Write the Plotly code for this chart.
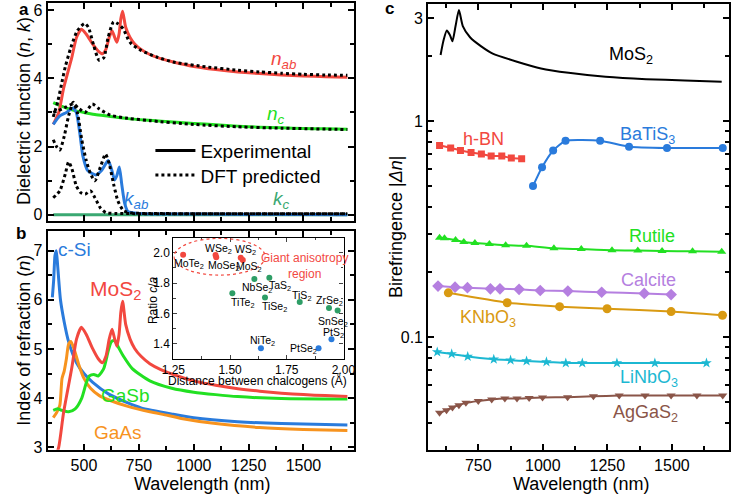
import plotly.graph_objects as go

# ---------------- Panel a data ----------------
wl_nab = [360, 385, 407, 444, 466, 488, 510, 539, 565, 584, 600, 615, 628, 640, 650, 660, 668, 676, 690, 710, 731, 760, 800, 850, 907, 1000, 1100, 1201, 1300, 1400, 1500, 1600, 1700]
n_ab = [2.65, 3.0, 3.7, 4.6, 5.2, 5.44, 5.3, 5.01, 4.8, 4.72, 4.85, 5.2, 5.4, 5.2, 5.06, 5.3, 5.75, 5.97, 5.5, 5.2, 5.01, 4.85, 4.7, 4.58, 4.48, 4.35, 4.26, 4.19, 4.14, 4.1, 4.07, 4.05, 4.03]
wl_nab_dft = [360, 380, 400, 415, 440, 470, 503, 520, 545, 569, 590, 610, 635, 655, 679, 701, 716, 760, 834, 907, 1054, 1200, 1300, 1400, 1500, 1600, 1700]
n_ab_dft = [2.87, 3.3, 3.9, 4.34, 4.9, 5.4, 5.61, 5.5, 4.95, 4.53, 4.6, 5.2, 5.66, 5.6, 5.45, 5.15, 5.01, 4.82, 4.62, 4.48, 4.34, 4.24, 4.19, 4.15, 4.12, 4.1, 4.09]
wl_nc = [360, 400, 450, 500, 550, 613, 700, 800, 907, 1000, 1100, 1201, 1300, 1400, 1500, 1600, 1700]
n_c = [3.29, 3.18, 3.07, 3.0, 2.94, 2.89, 2.82, 2.77, 2.72, 2.68, 2.64, 2.6, 2.57, 2.55, 2.53, 2.52, 2.51]
wl_nc_dft = [360, 400, 451, 480, 505, 538, 570, 620, 700, 800, 1000, 1200, 1400, 1700]
n_c_dft = [3.0, 3.1, 3.25, 3.1, 3.0, 3.25, 3.1, 2.92, 2.83, 2.76, 2.65, 2.58, 2.54, 2.5]
wl_kab = [360, 390, 420, 450, 465, 481, 495, 517, 554, 580, 610, 625, 640, 650, 661, 672, 685, 700, 750, 1000, 1700]
k_ab = [2.65, 2.9, 3.0, 3.13, 3.0, 2.4, 1.73, 1.3, 1.17, 1.3, 1.59, 1.35, 1.02, 1.15, 1.4, 0.9, 0.35, 0.1, 0.04, 0.02, 0.0]
wl_kab_dft = [360, 375, 390, 410, 430, 451, 470, 490, 510, 530, 550, 575, 598, 615, 635, 655, 680, 720, 800, 1000, 1700]
k_ab_dft = [2.2, 2.0, 1.9, 2.3, 2.9, 3.3, 3.0, 2.2, 1.6, 1.2, 1.0, 1.4, 1.78, 1.5, 0.9, 0.4, 0.12, 0.05, 0.04, 0.03, 0.03]
wl_kc = [360, 1700]
k_c = [0.0, 0.0]
wl_kc_dft = [360, 390, 415, 430, 445, 465, 485, 505, 530, 550, 575, 600, 650, 1700]
k_c_dft = [0.5, 0.7, 1.2, 1.55, 1.35, 0.85, 0.65, 0.6, 0.7, 0.5, 0.2, 0.06, 0.04, 0.03]

# ---------------- Panel b data ----------------
wl_si = [356, 362, 368, 374, 380, 393, 410, 430, 466, 500, 540, 613, 700, 760, 907, 1000, 1200, 1400, 1700]
n_si = [6.05, 6.4, 6.9, 7.0, 6.7, 6.0, 5.55, 5.15, 4.72, 4.5, 4.32, 4.08, 3.9, 3.8, 3.67, 3.6, 3.52, 3.48, 3.45]
wl_gasb = [360, 380, 400, 430, 460, 490, 510, 525, 545, 565, 590, 610, 625, 640, 655, 680, 720, 800, 900, 1000, 1100, 1200, 1400, 1700]
n_gasb = [3.75, 3.78, 3.75, 3.72, 3.78, 4.0, 4.3, 4.45, 4.48, 4.45, 4.6, 4.95, 5.15, 5.17, 5.05, 4.85, 4.6, 4.35, 4.2, 4.12, 4.07, 4.03, 3.99, 3.98]
wl_gaas = [360, 375, 390, 400, 410, 420, 430, 440, 455, 475, 500, 530, 570, 620, 700, 800, 880, 950, 1100, 1300, 1500, 1700]
n_gaas = [3.6, 3.7, 3.85, 4.4, 4.55, 4.8, 5.1, 5.15, 5.0, 4.7, 4.4, 4.2, 4.05, 3.95, 3.83, 3.72, 3.65, 3.58, 3.48, 3.4, 3.36, 3.34]

# ---------------- Inset data ----------------
tmd_names = ["MoTe<sub>2</sub>", "WSe<sub>2</sub>", "MoSe<sub>2</sub>", "WS<sub>2</sub>", "MoS<sub>2</sub>",
             "NbSe<sub>2</sub>", "TaS<sub>2</sub>", "TiTe<sub>2</sub>", "TiSe<sub>2</sub>", "TiS<sub>2</sub>",
             "ZrSe<sub>2</sub>", "SnSe<sub>2</sub>", "NiTe<sub>2</sub>", "PtSe<sub>2</sub>", "PtS<sub>2</sub>"]
tmd_dist = [1.293, 1.436, 1.439, 1.547, 1.556, 1.607, 1.673, 1.510, 1.654, 1.807, 1.936, 1.974, 1.636, 1.890, 1.947]
tmd_ratio = [1.987, 1.985, 1.970, 1.968, 1.953, 1.827, 1.835, 1.734, 1.705, 1.675, 1.636, 1.620, 1.370, 1.370, 1.430]
tmd_group = ["r", "r", "r", "r", "r", "g", "g", "g", "g", "g", "g", "g", "b", "b", "b"]
tmd_label_x = [1.317, 1.450, 1.472, 1.568, 1.585, 1.620, 1.722, 1.556, 1.698, 1.814, 1.938, 1.952, 1.641, 1.825, 1.956]
tmd_label_y = [1.929, 2.026, 1.913, 2.021, 1.906, 1.766, 1.783, 1.669, 1.640, 1.716, 1.679, 1.545, 1.416, 1.366, 1.469]

# ---------------- Panel c data ----------------
wl_mos2_c = [604, 615, 628, 640, 650, 662, 675, 690, 718, 760, 806, 900, 993, 1100, 1243, 1400, 1550, 1693]
dn_mos2 = [2.02, 2.35, 2.62, 2.5, 2.34, 2.75, 3.26, 2.75, 2.44, 2.22, 2.05, 1.88, 1.75, 1.67, 1.60, 1.56, 1.54, 1.52]
wl_hbn = [600, 643, 681, 722, 762, 800, 841, 878, 918]
dn_hbn = [0.769, 0.750, 0.730, 0.714, 0.703, 0.688, 0.688, 0.673, 0.668]
wl_batis3 = [962, 997, 1040, 1088, 1222, 1334, 1481, 1697]
dn_batis3 = [0.50, 0.61, 0.73, 0.81, 0.81, 0.76, 0.75, 0.75]
wl_rutile = [600, 619, 662, 694, 737, 793, 856, 937, 1043, 1149, 1268, 1368, 1462, 1580, 1693]
dn_rutile = [0.288, 0.286, 0.281, 0.275, 0.272, 0.269, 0.266, 0.264, 0.257, 0.255, 0.252, 0.251, 0.250, 0.249, 0.248]
wl_calcite = [594, 660, 708, 797, 834, 908, 990, 1097, 1228, 1393, 1497]
dn_calcite = [0.172, 0.170, 0.169, 0.167, 0.167, 0.166, 0.164, 0.163, 0.161, 0.159, 0.157]
wl_knbo3 = [634, 862, 1065, 1249, 1497, 1696]
dn_knbo3 = [0.160, 0.144, 0.138, 0.135, 0.131, 0.126]
wl_linbo3 = [591, 647, 709, 810, 875, 937, 1014, 1089, 1153, 1287, 1434, 1634]
dn_linbo3 = [0.0851, 0.0834, 0.0811, 0.0788, 0.0780, 0.0773, 0.0766, 0.0757, 0.0757, 0.0757, 0.0757, 0.0757]
wl_aggas2 = [600, 627, 650, 675, 702, 750, 802, 853, 900, 947, 999, 1096, 1196, 1296, 1396, 1497, 1597, 1697]
dn_aggas2 = [0.0445, 0.0458, 0.0471, 0.0483, 0.0495, 0.0505, 0.0513, 0.0518, 0.0518, 0.0521, 0.0524, 0.0526, 0.0531, 0.0535, 0.0535, 0.0535, 0.0535, 0.0535]

# ---------------- Styling ----------------
FONT = "Arial, Liberation Sans, sans-serif"
RED = "#f2483f"
GREEN = "#22e022"
DGREEN = "#3aa872"
BLUE = "#2a7bdc"
ORANGE = "#f7931e"
PURPLE = "#b57fe0"
GOLD = "#d99a12"
CYAN = "#1cb8d2"
BROWN = "#8a5548"
INS_COL = {"r": "#f2483f", "g": "#2e9e66", "b": "#2a7bdc"}

fig = go.Figure()

def line(x, y, color, xa, ya, width=3, dash=None, shape="spline"):
    fig.add_trace(go.Scatter(x=x, y=y, mode="lines", xaxis=xa, yaxis=ya,
                             line=dict(color=color, width=width, dash=dash, shape=shape, smoothing=0.6),
                             showlegend=False, hoverinfo="skip"))

# Panel a
line(wl_kc, k_c, DGREEN, "x", "y")
line(wl_nc, n_c, GREEN, "x", "y")
line(wl_nab, n_ab, RED, "x", "y")
line(wl_kab, k_ab, BLUE, "x", "y")
for wx, vy in [(wl_nab_dft, n_ab_dft), (wl_nc_dft, n_c_dft), (wl_kab_dft, k_ab_dft), (wl_kc_dft, k_c_dft)]:
    line(wx, vy, "black", "x", "y", width=3, dash="dot")
fig.add_trace(go.Scatter(x=[None], y=[None], mode="lines", xaxis="x", yaxis="y",
                         line=dict(color="black", width=3), name="Experimental",
                         showlegend=True, legend="legend"))
fig.add_trace(go.Scatter(x=[None], y=[None], mode="lines", xaxis="x", yaxis="y",
                         line=dict(color="black", width=3, dash="dot"), name="DFT predicted",
                         showlegend=True, legend="legend2"))

# Panel b
line(wl_si, n_si, BLUE, "x2", "y2")
line(wl_gaas, n_gaas, ORANGE, "x2", "y2")
line(wl_gasb, n_gasb, GREEN, "x2", "y2")
line(wl_nab, n_ab, RED, "x2", "y2")

# Inset
for grp in ["r", "g", "b"]:
    xs = [d for d, g in zip(tmd_dist, tmd_group) if g == grp]
    ys = [r for r, g in zip(tmd_ratio, tmd_group) if g == grp]
    fig.add_trace(go.Scatter(x=xs, y=ys, mode="markers", xaxis="x4", yaxis="y4",
                             marker=dict(color=INS_COL[grp], size=6), showlegend=False, hoverinfo="skip"))

# Panel c
line(wl_mos2_c, dn_mos2, "black", "x3", "y3", width=2)
def mline(x, y, color, symbol, size=8):
    fig.add_trace(go.Scatter(x=x, y=y, mode="lines+markers", xaxis="x3", yaxis="y3",
                             line=dict(color=color, width=2, shape="spline", smoothing=0.5),
                             marker=dict(color=color, symbol=symbol, size=size),
                             showlegend=False, hoverinfo="skip"))
mline(wl_hbn, dn_hbn, RED, "square", 7)
mline(wl_batis3, dn_batis3, BLUE, "circle", 8)
mline(wl_rutile, dn_rutile, GREEN, "triangle-up", 8)
mline(wl_calcite, dn_calcite, PURPLE, "diamond", 9)
mline(wl_knbo3, dn_knbo3, GOLD, "circle", 9)
mline(wl_linbo3, dn_linbo3, CYAN, "star", 8)
mline(wl_aggas2, dn_aggas2, BROWN, "triangle-down", 8)

W, H = 748, 501
def px(x): return x / W
def py(y): return 1 - y / H

axis_common = dict(showline=True, linewidth=2, linecolor="black", mirror="ticks",
                   ticks="inside", ticklen=6, tickwidth=1.5, tickcolor="black",
                   showgrid=False, zeroline=False,
                   tickfont=dict(family=FONT, size=16, color="black"))
inset_common = dict(showline=True, linewidth=1.2, linecolor="black", mirror="ticks", ticks="inside",
                    ticklen=4, tickwidth=1, showgrid=False, zeroline=False,
                    tickfont=dict(family=FONT, size=12, color="black"))

INS_X = [166.7, 342.5]
INS_XR = [1.25, 2.0]
xa_dom = [px(36.7), px(353.3)]
leg_common = dict(xanchor="left", yanchor="middle", bgcolor="rgba(0,0,0,0)",
                  font=dict(family=FONT, size=19, color="black"), itemwidth=40, borderwidth=0)
fig.update_layout(
    xaxis=dict(domain=xa_dom, range=[334, 1730], anchor="y", tickvals=[500, 750, 1000, 1250, 1500],
               showticklabels=False, minor=dict(ticks="inside", ticklen=4, tickvals=[625, 875, 1125, 1375, 1625]), **axis_common),
    yaxis=dict(domain=[py(222.7), py(1.7)], range=[-0.17, 6.22], anchor="x", tickvals=[0, 2, 4, 6],
               minor=dict(ticks="inside", ticklen=4, tickvals=[1, 3, 5]), **axis_common),
    xaxis2=dict(domain=xa_dom, range=[334, 1730], anchor="y2", tickvals=[500, 750, 1000, 1250, 1500],
                minor=dict(ticks="inside", ticklen=4, tickvals=[625, 875, 1125, 1375, 1625]), **axis_common),
    yaxis2=dict(domain=[py(455), py(233.3)], range=[2.95, 7.4], anchor="x2", tickvals=[3, 4, 5, 6, 7],
                minor=dict(ticks="inside", ticklen=4, tickvals=[3.5, 4.5, 5.5, 6.5]), **axis_common),
    xaxis3=dict(domain=[px(430), px(740.7)], range=[556, 1721], anchor="y3", tickvals=[750, 1000, 1250, 1500],
                minor=dict(ticks="inside", ticklen=4, tickvals=[625, 875, 1125, 1375, 1625]), **axis_common),
    yaxis3=dict(domain=[py(455), py(2.7)], type="log", range=[-1.522, 0.543], anchor="x3",
                tickvals=[0.1, 1, 3], ticktext=["0.1", "1", "3"],
                minor=dict(ticks="inside", ticklen=4, tickvals=[0.04, 0.05, 0.06, 0.07, 0.08, 0.09, 0.2, 0.3, 0.4, 0.5, 0.6, 0.7, 0.8, 0.9, 2]),
                **axis_common),
    xaxis4=dict(domain=[px(INS_X[0]), px(INS_X[1])], range=INS_XR, anchor="y4",
                tickvals=[1.25, 1.5, 1.75, 2.0], ticktext=["1.25", "1.50", "1.75", "2.00"],
                minor=dict(ticks="inside", ticklen=2.5, tickvals=[1.375, 1.625, 1.875]), **inset_common),
    yaxis4=dict(domain=[py(363), py(240)], range=[1.3, 2.1], anchor="x4",
                tickvals=[1.4, 1.6, 1.8, 2.0], ticktext=["1.4", "1.6", "1.8", "2.0"],
                minor=dict(ticks="inside", ticklen=2.5, tickvals=[1.5, 1.7, 1.9]), **inset_common),
    width=W, height=H, margin=dict(l=0, r=0, t=0, b=0),
    paper_bgcolor="white", plot_bgcolor="white",
    font=dict(family=FONT, color="black"),
    showlegend=True,
    legend=dict(x=px(143), y=py(151.7), **leg_common),
    legend2=dict(x=px(143), y=py(176.7), **leg_common),
)

ann = []
def A(text, x, y, xref="paper", yref="paper", size=18, color="black", **kw):
    ann.append(dict(text=text, x=x, y=y, xref=xref, yref=yref, showarrow=False,
                    xanchor="center", yanchor="middle",
                    font=dict(family=FONT, size=size, color=color), **kw))

# panel letters
A("<b>a</b>", px(12), py(9), size=17)
A("<b>b</b>", px(9), py(236), size=17)
A("<b>c</b>", px(390), py(8), size=17)
# axis titles
A("Dielectric function (<i>n</i>, <i>k</i>)", px(13), py(112), textangle=-90)
A("Index of refraction (<i>n</i>)", px(13), py(344), textangle=-90)
A("Birefringence |<i>Δn</i>|", px(397), py(229), textangle=-90)
A("Wavelength (nm)", px(196), py(490))
A("Wavelength (nm)", px(588), py(490))
# panel a labels
A("<i>n<sub>ab</sub></i>", 1407, 4.53, "x", "y", size=19, color=RED)
A("<i>n<sub>c</sub></i>", 1376, 2.94, "x", "y", size=19, color=GREEN)
A("<i>k<sub>ab</sub></i>", 737, 0.43, "x", "y", size=19, color=BLUE)
A("<i>k<sub>c</sub></i>", 1398, 0.43, "x", "y", size=19, color=DGREEN)
# panel b labels
A("c-Si", 459, 7.03, "x2", "y2", size=19, color=BLUE)
A("MoS<sub>2</sub>", 644, 6.21, "x2", "y2", size=21, color=RED)
A("GaSb", 688, 4.05, "x2", "y2", size=19, color=GREEN)
A("GaAs", 657, 3.30, "x2", "y2", size=19, color=ORANGE)
# inset labels
for name, lx, ly in zip(tmd_names, tmd_label_x, tmd_label_y):
    A(name, lx, ly, "x4", "y4", size=10.5)
A("Giant anisotropy<br>region", 1.830, 1.916, "x4", "y4", size=12, color=RED)
A("Ratio <i>c</i>/<i>a</i>", px(145), py(303), size=12, textangle=-90)
A("Distance between chalcogens (Å)", px(254), py(385), size=12)
# panel c labels
A("MoS<sub>2</sub>", 1343, 0.305, "x3", "y3", size=18)
A("h-BN", 769, -0.0836, "x3", "y3", size=18, color=RED)
A("BaTiS<sub>3</sub>", 1406, -0.0685, "x3", "y3", size=18, color=BLUE)
A("Rutile", 1424, -0.532, "x3", "y3", size=18, color=GREEN)
A("Calcite", 1411, -0.737, "x3", "y3", size=18, color=PURPLE)
A("KNbO<sub>3</sub>", 787, -0.913, "x3", "y3", size=18, color=GOLD)
A("LiNbO<sub>3</sub>", 1411, -1.193, "x3", "y3", size=18, color=CYAN)
A("AgGaS<sub>2</sub>", 1399, -1.353, "x3", "y3", size=18, color=BROWN)
fig.update_layout(annotations=ann)

# dashed ellipse marking the giant-anisotropy region (inset data coordinates)
fig.add_shape(type="circle", xref="x4", yref="y4", x0=1.253, x1=1.655, y0=1.853, y1=2.095,
              line=dict(color=RED, width=1.2, dash="dot"))

fig.write_html("out.html", config={"displayModeBar": False},
               post_script="document.body.style.margin='0px';")
